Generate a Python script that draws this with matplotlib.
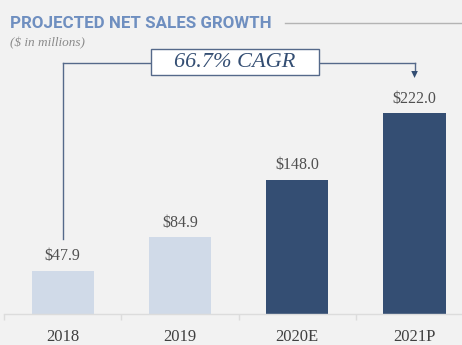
import matplotlib
matplotlib.use("Agg")
import matplotlib.pyplot as plt
from matplotlib.lines import Line2D
from matplotlib.patches import FancyBboxPatch, Polygon

categories = ["2018", "2019", "2020E", "2021P"]
values = [47.9, 84.9, 148.0, 222.0]
value_labels = ["$47.9", "$84.9", "$148.0", "$222.0"]
title = "PROJECTED NET SALES GROWTH"
subtitle = "($ in millions)"
cagr_text = "66.7% CAGR"

bg = "#f2f2f2"
light = "#d0dae8"
dark = "#344e73"
colors = [light, light, dark, dark]

fig = plt.figure(figsize=(4.62, 3.45), dpi=100, facecolor=bg)
W, H = 462, 345
ax = fig.add_axes([4 / W, 31 / H, 1 - 4 / W, 1 - 31 / H])
ax.set_facecolor(bg)

x = list(range(len(categories)))
ax.bar(x, values, width=0.53, color=colors, zorder=2)
ax.set_xlim(-0.5, -0.5 + 458 / 117.3)
ax.set_ylim(0, 314 / 0.905)

for s in ["top", "right", "left"]:
    ax.spines[s].set_visible(False)
ax.spines["bottom"].set_color("#dcdcdc")
ax.spines["bottom"].set_linewidth(1.0)
ax.set_yticks([])
ax.set_xticks(x)
serif = ["Liberation Serif", "DejaVu Serif"]
ax.set_xticklabels(categories, fontfamily=serif, fontsize=12, color="#404040")
ax.tick_params(axis="x", which="major", length=0, pad=11)
ax.set_xticks([-0.5, 0.5, 1.5, 2.5], minor=True)
ax.tick_params(axis="x", which="minor", length=4, color="#dcdcdc", width=1)

for xi, v, lab in zip(x, values, value_labels):
    ax.annotate(lab, (xi, v), xytext=(0, 10.5), textcoords="offset points",
                ha="center", va="center", fontsize=11.5, color="#505050",
                fontfamily=serif)

# CAGR bracket
line_c = "#55698a"
y_br = 277.3
ax.plot([0, 0], [82.9, y_br], color=line_c, lw=1.0, clip_on=False, zorder=1)
ax.plot([0, 3], [y_br, y_br], color=line_c, lw=1.0, clip_on=False, zorder=1)
ax.plot([3, 3], [y_br, 266], color=line_c, lw=1.0, clip_on=False, zorder=1)
ax.add_patch(Polygon([[3 - 0.028, 268.5], [3 + 0.028, 268.5], [3, 260.8]],
                     closed=True, color=dark, lw=0, zorder=3, clip_on=False))
ax.add_patch(FancyBboxPatch((0.753, 264.0), 2.185 - 0.753, 292.8 - 264.0,
                            boxstyle="square,pad=0", facecolor="white",
                            edgecolor=line_c, lw=1.0, zorder=4, clip_on=False))
ax.text(1.47, 278.4, cagr_text, ha="center", va="center", fontsize=16,
        fontstyle="italic", color=dark, fontfamily=serif, zorder=5)

# Title and subtitle
fig.text(10 / W, 1 - 23 / H, title, ha="left", va="center", fontsize=12.2,
         fontweight="bold", color="#6f8fc0",
         fontfamily=["Roboto", "Liberation Sans", "DejaVu Sans"])
fig.add_artist(Line2D([285 / W, 1.0], [1 - 23 / H, 1 - 23 / H],
                      color="#b4b4b4", lw=1.0))
fig.text(10 / W, 1 - 43 / H, subtitle, ha="left", va="center", fontsize=9.5,
         fontstyle="italic", color="#8a8a8a", fontfamily=serif)

fig.savefig("out.png", dpi=100, facecolor=bg)
